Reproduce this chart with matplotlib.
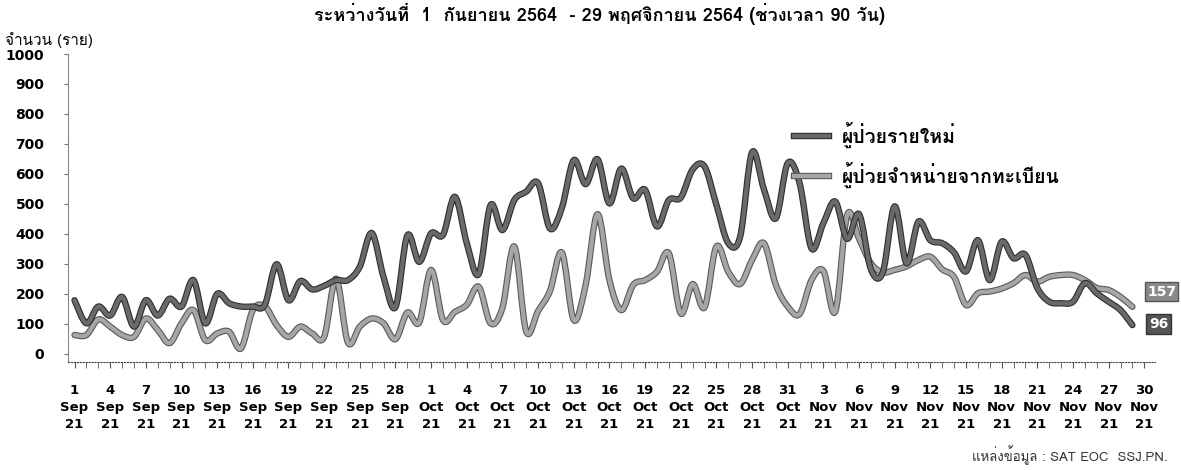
import numpy as np
import pandas as pd
import matplotlib
matplotlib.use('Agg')
import matplotlib.pyplot as plt
import matplotlib.patheffects as pe
from matplotlib import font_manager
from matplotlib.ft2font import FT2Font
from matplotlib.path import Path
from matplotlib.patches import PathPatch
from matplotlib.lines import Line2D

# daily counts, 1 Sep 2021 - 29 Nov 2021
new_cases = [179, 102, 158, 128, 190, 91, 179, 128, 184, 158,
             246, 102, 200, 169, 158, 158, 163, 299, 179, 243,
             215, 227, 246, 246, 291, 403, 256, 156, 395, 307,
             402, 397, 524, 369, 266, 496, 413, 513, 541, 569,
             418, 487, 646, 566, 649, 502, 618, 519, 547, 425,
             513, 521, 615, 625, 497, 369, 391, 672, 549, 452,
             636, 569, 352, 436, 508, 384, 466, 282, 272, 492,
             302, 441, 379, 369, 338, 275, 379, 246, 374, 319,
             330, 220, 174, 169, 174, 236, 202, 174, 146, 96]
discharged = [63, 63, 115, 91, 63, 57, 118, 80, 36, 102,
              146, 46, 68, 74, 18, 146, 159, 96, 57, 91,
              68, 57, 251, 38, 91, 118, 102, 49, 138, 105,
              280, 113, 140, 164, 224, 102, 154, 358, 75, 143,
              210, 338, 113, 230, 466, 246, 146, 230, 246, 274,
              335, 135, 233, 155, 358, 274, 233, 313, 369, 230,
              158, 133, 246, 277, 141, 463, 384, 302, 272, 280,
              292, 313, 324, 282, 256, 163, 202, 208, 218, 236,
              263, 241, 257, 263, 263, 246, 220, 213, 190, 157]
axis_dates = pd.date_range('2021-09-01', '2021-11-30')
series_names = ['ผู้ป่วยรายใหม่', 'ผู้ป่วยจำหน่ายจากทะเบียน']
title = 'ระหว่างวันที่  1  กันยายน 2564  - 29 พฤศจิกายน 2564 (ช่วงเวลา 90 วัน)'


def find_thai_font():
    for f in font_manager.fontManager.ttflist:
        try:
            if ord('ก') in FT2Font(f.fname).get_charmap():
                return f.name
        except Exception:
            pass
    return 'DejaVu Sans'


thai = [find_thai_font(), 'DejaVu Sans']


def smooth_path(x, y):
    # Catmull-Rom style smoothing, like Excel's "smoothed line"
    pts = np.column_stack([x, y]).astype(float)
    p = np.vstack([pts[0], pts, pts[-1]])
    verts = [pts[0]]
    codes = [Path.MOVETO]
    for i in range(1, len(p) - 2):
        c1 = p[i] + (p[i + 1] - p[i - 1]) / 6
        c2 = p[i + 1] - (p[i + 2] - p[i]) / 6
        verts += [c1, c2, p[i + 1]]
        codes += [Path.CURVE4] * 3
    return Path(verts, codes)


fig = plt.figure(figsize=(11.81, 4.70), dpi=100)
ax = fig.add_axes([68 / 1181, 1 - 362 / 470, 1087 / 1181, 308 / 470])

x = np.arange(len(new_cases))
styles = [('#6a6a6a', '#2e2e2e'), ('#a6a6a6', '#5a5a5a')]
for vals, (col, edge) in zip([discharged, new_cases], [styles[1], styles[0]]):
    patch = PathPatch(smooth_path(x, vals), fill=False, edgecolor=col, lw=3.0,
                      capstyle='round', joinstyle='round',
                      path_effects=[pe.Stroke(linewidth=4.6, foreground=edge), pe.Normal()])
    ax.add_patch(patch)

ax.set_xlim(-0.55, 90.9)
ax.set_ylim(-27, 1000)
ax.set_yticks(range(0, 1001, 100))
ax.set_xticks(range(0, len(axis_dates), 3))
ax.set_xticks(range(0, len(axis_dates)), minor=True)
ax.set_xticklabels([f'{d.day}\n{d:%b}\n{d:%y}' for d in axis_dates[::3]],
                   fontsize=9.5, fontweight='bold', linespacing=1.4)
for lab in ax.get_yticklabels():
    lab.set_fontweight('bold')
    lab.set_fontsize(10)
ax.tick_params(axis='y', length=3, pad=14, color='#777777')
ax.tick_params(axis='x', which='both', length=4, direction='out', pad=12, color='#555555')
for s in ['top', 'right']:
    ax.spines[s].set_visible(False)
ax.spines['bottom'].set_linestyle(':')
ax.spines['bottom'].set_color('#444444')
ax.spines['left'].set_color('#888888')
ax.spines['left'].set_linewidth(0.8)

# end-point labels
ax.annotate(str(discharged[-1]), xy=(x[-1], discharged[-1]), xytext=(21, 11),
            textcoords='offset points', ha='center', va='center', fontsize=10,
            fontweight='bold', color='white', annotation_clip=False,
            bbox=dict(boxstyle='square,pad=0.15', fc='#8a8a8a', ec='#555555'))
ax.annotate(str(new_cases[-1]), xy=(x[-1], new_cases[-1]), xytext=(19, 1),
            textcoords='offset points', ha='center', va='center', fontsize=10,
            fontweight='bold', color='white', annotation_clip=False,
            bbox=dict(boxstyle='square,pad=0.2', fc='#555555', ec='#333333'))

handles = [Line2D([], [], color=c, lw=3.0,
                  path_effects=[pe.Stroke(linewidth=4.6, foreground=e), pe.Normal()])
           for c, e in styles]
fig.legend(handles, series_names, loc='upper left', bbox_to_anchor=(776 / 1181, 1 - 104 / 470),
           frameon=False, handlelength=1.8, handletextpad=0.7, labelspacing=0.75,
           prop=dict(family=thai, size=14, weight='bold'))

fig.text(600 / 1181, 1 - 14 / 470, title, ha='center', va='center', fontsize=13,
         fontweight='bold', family=thai)
fig.text(5 / 1181, 1 - 40 / 470, 'จำนวน (ราย)', ha='left', va='center', fontsize=11,
         family=thai)
fig.text(1168 / 1181, 1 - 455 / 470, 'แหล่งข้อมูล : SAT EOC  SSJ.PN.', ha='right', va='center',
         fontsize=9.5, family=thai, color='#333333')

fig.savefig('out.png', dpi=100)
